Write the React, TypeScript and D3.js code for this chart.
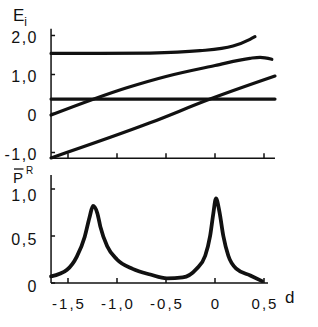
import React, { useRef, useEffect } from "react";
import { select, scaleLinear, line, curveMonotoneX } from "d3";

// axis ticks
const dTicks = [-1.5, -1.0, -0.5, 0, 0.5];
const dTickLabels = ["-1,5", "-1,0", "-0,5", "0", "0,5"];
const eTicks = [2, 1, 0, -1];
const eTickLabels = ["2,0", "1,0", "0", "-1,0"];
const pTicks = [1, 0.5, 0];
const pTickLabels = ["1,0", "0,5", "0"];

// energy levels E_i(d)
const level1D = [-1.673, -1.17, -0.663, -0.153, 0.184, 0.357, 0.408];
const level1E = [1.54, 1.54, 1.55, 1.61, 1.73, 1.9, 1.97];

const level2D = [-1.673, -0.9, -0.5, 0.0, 0.357, 0.46, 0.58];
const level2E = [-0.04, 0.66, 0.95, 1.23, 1.415, 1.44, 1.39];

const level3D = [-1.673, 0.612];
const level3E = [0.37, 0.37];

const level4D = [-1.673, -0.663, -0.05, 0.612];
const level4E = [-1.14, -0.24, 0.37, 0.96];

// averaged probability P^R(d)
const probD = [
  -1.673, -1.51, -1.41, -1.33, -1.28, -1.245, -1.2, -1.17, -1.1, -1.0, -0.84,
  -0.66, -0.49, -0.33, -0.19, -0.1, -0.05, -0.017, 0.01, 0.045, 0.085, 0.136,
  0.22, 0.36, 0.48,
];
const probP = [
  0.07, 0.14, 0.28, 0.49, 0.7, 0.82, 0.74, 0.6, 0.39, 0.25, 0.15, 0.09, 0.05,
  0.06, 0.15, 0.29, 0.5, 0.74, 0.9, 0.76, 0.5, 0.29, 0.15, 0.08, 0.02,
];

const FONT = "'Liberation Sans', Arial, sans-serif";

function App() {
  const svgRef = useRef(null);

  useEffect(() => {
    const svg = select(svgRef.current);
    svg.selectAll("*").remove();

    const xScale = scaleLinear().domain([-1.5, 0.5]).range([68, 264]);
    const eScale = scaleLinear().domain([-1, 2]).range([152.5, 35.5]);
    const pScale = scaleLinear().domain([0, 1]).range([283, 189]);

    const dMin = -1.673;
    const g = svg.append("g").attr("fill", "none").attr("stroke", "#111");

    // ---- top panel axes
    const eBottom = eScale(-1.15);
    g.append("line")
      .attr("x1", xScale(dMin)).attr("x2", xScale(dMin))
      .attr("y1", eScale(2.17)).attr("y2", eBottom)
      .attr("stroke-width", 1.5);
    g.append("line")
      .attr("x1", xScale(dMin)).attr("x2", xScale(0.612))
      .attr("y1", eBottom).attr("y2", eBottom)
      .attr("stroke-width", 1.5);
    g.selectAll(".e-tick")
      .data(eTicks)
      .join("line")
      .attr("class", "e-tick")
      .attr("x1", xScale(dMin)).attr("x2", xScale(dMin) + 4)
      .attr("y1", (v) => eScale(v)).attr("y2", (v) => eScale(v))
      .attr("stroke-width", 1.5);
    g.selectAll(".dt-tick")
      .data(dTicks)
      .join("line")
      .attr("class", "dt-tick")
      .attr("x1", (v) => xScale(v)).attr("x2", (v) => xScale(v))
      .attr("y1", eBottom).attr("y2", eBottom - 5)
      .attr("stroke-width", 1.5);

    // ---- bottom panel axes
    const pBottom = pScale(0);
    g.append("line")
      .attr("x1", xScale(dMin)).attr("x2", xScale(dMin))
      .attr("y1", pScale(1.15)).attr("y2", pBottom)
      .attr("stroke-width", 1.5);
    g.append("line")
      .attr("x1", xScale(dMin)).attr("x2", xScale(0.541))
      .attr("y1", pBottom).attr("y2", pBottom)
      .attr("stroke-width", 1.5);
    g.selectAll(".p-tick")
      .data(pTicks)
      .join("line")
      .attr("class", "p-tick")
      .attr("x1", xScale(dMin)).attr("x2", xScale(dMin) + 4)
      .attr("y1", (v) => pScale(v)).attr("y2", (v) => pScale(v))
      .attr("stroke-width", 1.5);
    g.selectAll(".db-tick")
      .data(dTicks)
      .join("line")
      .attr("class", "db-tick")
      .attr("x1", (v) => xScale(v)).attr("x2", (v) => xScale(v))
      .attr("y1", pBottom).attr("y2", pBottom - 5)
      .attr("stroke-width", 1.5);

    // ---- energy curves
    const eLine = line()
      .x((d) => xScale(d[0]))
      .y((d) => eScale(d[1]))
      .curve(curveMonotoneX);
    const levels = [
      [level1D, level1E],
      [level2D, level2E],
      [level3D, level3E],
      [level4D, level4E],
    ].map(([ds, es]) => ds.map((d, i) => [d, es[i]]));
    g.selectAll(".level")
      .data(levels)
      .join("path")
      .attr("class", "level")
      .attr("d", eLine)
      .attr("stroke-width", 3.2)
      .attr("stroke-linecap", "round");

    // ---- probability curve
    const pLine = line()
      .x((d) => xScale(d[0]))
      .y((d) => pScale(d[1]))
      .curve(curveMonotoneX);
    g.append("path")
      .datum(probD.map((d, i) => [d, probP[i]]))
      .attr("d", pLine)
      .attr("stroke-width", 3.8)
      .attr("stroke-linejoin", "round")
      .attr("stroke-linecap", "round");

    // ---- labels
    const t = svg.append("g").attr("font-family", FONT).attr("fill", "#111");
    t.selectAll(".e-lab")
      .data(eTicks)
      .join("text")
      .attr("class", "e-lab")
      .attr("x", 38)
      .attr("y", (v) => eScale(v) + 1.5)
      .attr("text-anchor", "end")
      .attr("dominant-baseline", "central")
      .attr("font-size", 16)
      .attr("letter-spacing", 1.5)
      .text((v, i) => eTickLabels[i]);
    t.selectAll(".p-lab")
      .data(pTicks)
      .join("text")
      .attr("class", "p-lab")
      .attr("x", 38)
      .attr("y", (v) => pScale(v) + (v === 1 ? 6.5 : 3))
      .attr("text-anchor", "end")
      .attr("dominant-baseline", "central")
      .attr("font-size", 16)
      .attr("letter-spacing", 1.5)
      .text((v, i) => pTickLabels[i]);
    t.selectAll(".d-lab")
      .data(dTicks)
      .join("text")
      .attr("class", "d-lab")
      .attr("x", (v) => xScale(v) + 1)
      .attr("y", 309)
      .attr("text-anchor", "middle")
      .attr("font-size", 15)
      .attr("letter-spacing", 2)
      .text((v, i) => dTickLabels[i]);

    // titles
    const eTitle = t.append("text").attr("x", 13).attr("y", 21).attr("font-size", 17);
    eTitle.append("tspan").text("E");
    eTitle.append("tspan").attr("font-size", 12).attr("dy", 5).text("i");

    t.append("text").attr("x", 13).attr("y", 183).attr("font-size", 15).text("P");
    t.append("line")
      .attr("x1", 14).attr("x2", 23.5).attr("y1", 169).attr("y2", 169)
      .attr("stroke", "#111").attr("stroke-width", 1.3);
    t.append("text").attr("x", 26).attr("y", 173.5).attr("font-size", 10).text("R");

    t.append("text").attr("x", 285).attr("y", 303).attr("font-size", 17).text("d");
  }, []);

  return (
    <svg
      ref={svgRef}
      width={318}
      height={327}
      style={{ position: "absolute", left: 0, top: 0, background: "#fff" }}
    />
  );
}

export default App;
